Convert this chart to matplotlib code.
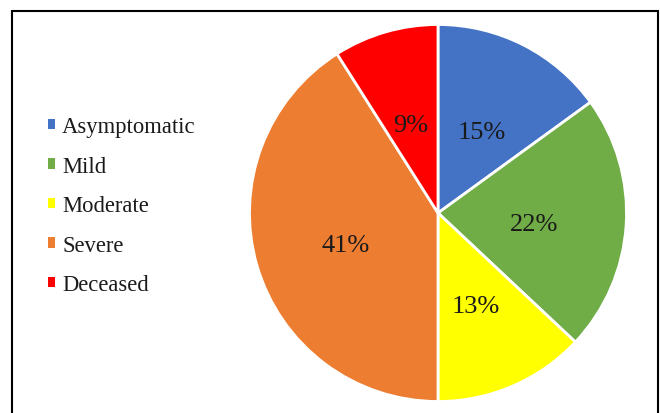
import matplotlib.pyplot as plt
from matplotlib.patches import Rectangle

# Severity groups and their shares (%)
labels = ['Asymptomatic', 'Mild', 'Moderate', 'Severe', 'Deceased']
shares = [15, 22, 13, 41, 9]
colors = ['#4472C4', '#70AD47', '#FFFF00', '#ED7D31', '#FF0000']

plt.rcParams['font.family'] = ['Liberation Serif', 'DejaVu Serif']

fig = plt.figure(figsize=(6.6, 4.14), dpi=100)

# pie axes, sized so that radius 1 fills it
ax = fig.add_axes([249.5 / 660, 11.5 / 414, 377 / 660, 377 / 414])
wedges, texts, autotexts = ax.pie(
    shares, colors=colors, startangle=90, counterclock=False,
    autopct='%d%%', pctdistance=0.51,
    wedgeprops=dict(edgecolor='white', linewidth=2),
    textprops=dict(fontsize=19, color='#1a1a1a'))
# nudge the percentages down a little
for t in autotexts:
    x, y = t.get_position()
    t.set_position((x, y - 0.025))
ax.set_xlim(-1, 1)
ax.set_ylim(-1, 1)
ax.set_aspect('equal')
ax.axis('off')

# legend on the left
leg = fig.legend(wedges, labels, loc='upper left',
                 bbox_to_anchor=(48 / 660, 1 - 117 / 414),
                 frameon=False, fontsize=16.3,
                 handlelength=0.32, handleheight=0.32,
                 handletextpad=0.3, labelspacing=0.82,
                 borderaxespad=0, borderpad=0)
for t in leg.get_texts():
    t.set_color('#1a1a1a')
for h in leg.legend_handles:
    h.set_edgecolor('none')

# outer frame
fig.patches.append(Rectangle((12 / 660, -0.05), 646 / 660, 1 - 12 / 414 + 0.05,
                             transform=fig.transFigure, fill=False,
                             edgecolor='black', linewidth=1.5))

plt.savefig('out.png', dpi=100)
